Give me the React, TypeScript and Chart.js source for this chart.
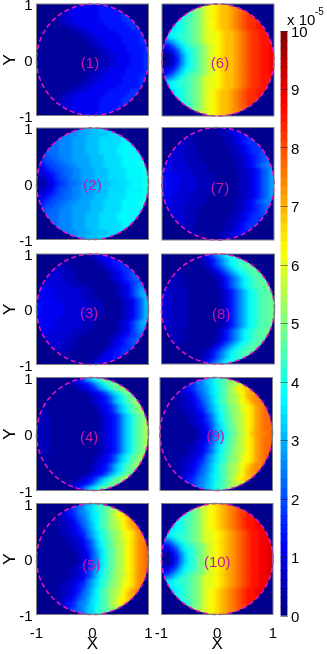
import React, { useEffect, useRef } from "react";
import { Chart, registerables } from "chart.js";

Chart.register(...registerables);

// Each string is one row of cells inside the disc, from y = +0.96 down to y = 0; the field is mirrored about y = 0.
// One character is one colour level: 0-9a-z, where 3.5 levels = 1 x 10^-5.
const panel1Rows = ["4444455", "34444445555", "233444444555556", "12334444445555566", "1122334444445555566", "111112233444445555566", "11111111223344444555556", "11111111122334444455556", "11111111112233444455556", "1111111111112233444455556", "1111111111111223344455556", "1111111111111122334445556", "1111111111111122334445556"];
const panel2Rows = ["aabbbcc", "99aaabbbbcc", "999aaabbbcccccd", "8999aaabbbcccccdd", "88999aaabbbccccdddd", "888999aaabbbccccddddd", "7788999aaaabbbccccddddd", "6778899aaaabbbccccdddde", "56778899aaabbbccccdddde", "3456778899aaabbbccccdddde", "2345678899aaabbbccccdddde", "1234677899aaabbbccccdddde", "11345678899aaabbbccccddde"];
const panel3Rows = ["1112344", "11111123445", "221111111234556", "32221111111234566", "3332221111111234567", "333322211111112345678", "43333322211111112345678", "44333332222111111234689", "4443333332221111123468a", "444433333322211111" + "23468ab", "4444433333322211111" + "23468b", "544444333333222111123468b", "544444333333222111123468b"];
const panel4Rows = ["57acegh", "123457acegh", "111123457aceghj", "111111123457acegh", "11111111123457acegh", "111111111123457aceghj", "21111111111123457aceghj", "21111111111123457aceghj", "221111111111123457acegh", "2221111111111123457aceghj", "2221111111111123457aceghj", "2221111111111123457aceghj", "2221111111111123457aceghj"];
const panel5Rows = ["89bcefg", "5689bcefgij", "235689acdfgikmn", "1234578acdfgijlmo", "112234689bdfgijkmop", "1112234579bdfgijkmnpq", "11112233568acefhijlmnpq", "11111223458acefhijlmnpq", "111111223468bdfgijkmnpq", "1111111223468bdfgijkmnpqr", "1111111123357aceghjkmnpqr", "11111111123479ceghjkmnpqr", "11111111123479ceghjkmnpqr"];
const panel6Rows = ["klmnoop", "hiklmnoopqr", "efhiklmnoopqrst", "efghiklmnoopqrstt", "defghiklmnoopqrsttu", "cdefghiklmnoopqrsttuu", "ddeefghikllmnoopqrsttuu", "cdeffghikllmnoopqrsttuu", "8acefghikllmnoopqrsttuu", "457acefghiklmnoopqrsttuuv", "3357bdefhiklmnoopqrsttuuv", "11369cefhiklmnoopqrsttuuv", "01359cefhiklmnoopqrsttuuv"];
const panel7Rows = ["1111223", "21111122345", "221111111223456", "32211111112234566", "3322211111112234566", "333222111111122345667", "33332221111111122345678", "43332222111111122345678", "43333222211111122345789", "44333322221111111" + "2234578a", "44433332222111111" + "2234578a", "544433332222111112234578a", "544433332222111112234578a"];
const panel8Rows = ["3579bde", "1123579bdef", "111123579bdefgg", "11111123579bdefgg", "2111111123579bdefgg", "222111111123579bdefgg", "2222111111123579bdefggh", "2222111111123579bdefggh", "32222111111123579bdefgg", "332222111111123579bdefggh", "332222111111123579bdefggh", "332222111111123579bdefggh", "332222111111123579bdefggh"];
const panel9Rows = ["9bcefgi", "689bcefgijk", "35689acdfgikmno", "234578acdfgijlmop", "12234689bdfgijkmopq", "112234579bdfgijkmnpqq", "1112233568acefhijlmnpqr", "1111223458acefhijlmnpqr", "11111223468bdfgijkmnpqr", "111111223468bdfgijkmnpqrr", "111111123357aceghjkmnpqrr", "111111112347aceghjkmnpqrr", "1111111123469bdfhiklopqqr"];
const panel10Rows = ["klmnopq", "hiklmnopqrs", "efhiklmnopqrstu", "efghiklmnopqrstuu", "defghiklmnopqrstuuv", "cdefghiklmnopqrstuuvv", "ddeefghikllmnopqrstuuvv", "cdeffghikllmnopqrstuuvv", "8acefghikllmnopqrstuuvv", "457acefghiklmnopqrstuuvvw", "3357bdefhiklmnopqrstuuvvw", "11369cefhiklmnopqrstuuvvw", "01359cefhiklmnopqrstuuvvw"];

const panelRows = [panel1Rows, panel2Rows, panel3Rows, panel4Rows, panel5Rows, panel6Rows, panel7Rows, panel8Rows, panel9Rows, panel10Rows];
const panelNames = ["(1)", "(2)", "(3)", "(4)", "(5)", "(6)", "(7)", "(8)", "(9)", "(10)"];
const nameX = [-0.045, 0, -0.06, -0.06, -0.02, 0.036, 0.036, 0.057, -0.01, 0];
const nameY = [-0.08, -0.04, -0.086, -0.07, -0.12, -0.07, -0.095, -0.1, -0.056, -0.063];
const hasYTicks = [true, true, true, true, true, false, false, false, false, false];
const hasYTitle = [true, false, true, true, true, false, false, false, false, false];
const hasXAxis = [false, false, false, false, true, false, false, false, false, true];
const colorbarTicks = [0, 1, 2, 3, 4, 5, 6, 7, 8, 9, 10];

const frames = [
  { l: 36.5, r: 148.5, t: 4, b: 115.5 },
  { l: 36.5, r: 148.5, t: 128, b: 239.5 },
  { l: 36.5, r: 148.5, t: 254, b: 364.5 },
  { l: 36.5, r: 148.5, t: 377.5, b: 490.5 },
  { l: 36.5, r: 148.5, t: 503.5, b: 614.5 },
  { l: 162, r: 274, t: 4, b: 116 },
  { l: 162, r: 274, t: 127.5, b: 240 },
  { l: 161.5, r: 274.5, t: 254, b: 364 },
  { l: 160, r: 272.5, t: 377.5, b: 490.5 },
  { l: 161.5, r: 273, t: 503.5, b: 614.5 },
];
const barFrame = { l: 280.5, r: 287.5, t: 31, b: 616 };
const W = 327;
const H = 654;
const FONT = "'Liberation Sans', Arial, sans-serif";
const LEVELS_PER_UNIT = 3.5;
const GRID = 25;
const STEP = 0.08;
const PAD = 3;
const BG = "rgb(0,0,140)";

function jet(t: number) {
  const c = (v: number) => Math.round(255 * Math.max(0, Math.min(1, v)));
  return `rgb(${c(1.5 - Math.abs(4 * t - 3))},${c(1.5 - Math.abs(4 * t - 2))},${c(1.5 - Math.abs(4 * t - 1))})`;
}

function buildCells(rows: string[]) {
  // The rim of each row is repeated a few cells past the disc so that smoothing does not pull in the
  // dark surround; the part outside the disc is masked off after the smoothing.
  const all = [rows[0], ...rows, ...rows.slice(0, -1).reverse(), rows[0]];
  const cells: { x: number; y: number }[] = [];
  const colors: string[] = [];
  all.forEach((row, j) => {
    const offset = (GRID - row.length) / 2;
    const pad = j === 0 || j === all.length - 1 ? PAD + 3 : PAD;
    for (let k = -pad; k < row.length + pad; k++) {
      const ch = row[Math.max(0, Math.min(row.length - 1, k))];
      cells.push({ x: -0.96 + (offset + k) * STEP, y: 1.04 - j * STEP });
      colors.push(jet(parseInt(ch, 36) / LEVELS_PER_UNIT / 10));
    }
  });
  return { cells, colors };
}

const circleDegrees = Array.from({ length: 121 }, (_, i) => i * 3);

const pin = (scale: any) => {
  scale.paddingTop = scale.paddingBottom = scale.paddingLeft = scale.paddingRight = 0;
};

function makePanel(canvas: HTMLCanvasElement, i: number) {
  const f = frames[i];
  const { cells, colors } = buildCells(panelRows[i]);
  const side = (f.r - f.l) / GRID + 0.6;
  const framePlugin = {
    id: "panelFrame",
    beforeDatasetsDraw(chart: any) {
      const a = chart.chartArea;
      chart.ctx.save();
      chart.ctx.fillStyle = BG;
      chart.ctx.fillRect(a.left, a.top, a.right - a.left, a.bottom - a.top);
      chart.ctx.restore();
    },
    afterDatasetDraw(chart: any, args: any) {
      if (args.index !== 1) return;
      const a = chart.chartArea;
      const ctx = chart.ctx;
      const w = a.right - a.left;
      const h = a.bottom - a.top;
      const x0 = Math.floor(a.left) - 1;
      const y0 = Math.floor(a.top) - 1;
      const ww = Math.ceil(w) + 3;
      const hh = Math.ceil(h) + 3;
      ctx.save();
      ctx.beginPath();
      ctx.rect(a.left, a.top, w, h);
      ctx.clip();
      ctx.filter = "blur(1.5px)";
      ctx.drawImage(chart.canvas, x0, y0, ww, hh, x0, y0, ww, hh);
      ctx.filter = "none";
      ctx.beginPath();
      ctx.rect(a.left, a.top, w, h);
      ctx.ellipse(a.left + w / 2, a.top + h / 2, w / 2, h / 2, 0, 0, Math.PI * 2);
      ctx.fillStyle = BG;
      ctx.fill("evenodd");
      ctx.restore();
    },
    afterDatasetsDraw(chart: any) {
      const a = chart.chartArea;
      const ctx = chart.ctx;
      ctx.save();
      ctx.strokeStyle = "#808080";
      ctx.lineWidth = 1;
      ctx.strokeRect(a.left, a.top, a.right - a.left, a.bottom - a.top);
      ctx.font = `15px ${FONT}`;
      ctx.fillStyle = "rgb(195,25,165)";
      ctx.textAlign = "center";
      ctx.textBaseline = "middle";
      ctx.fillText(panelNames[i], chart.scales.x.getPixelForValue(nameX[i]), chart.scales.y.getPixelForValue(nameY[i]));
      ctx.restore();
    },
  };
  return new Chart(canvas, {
    type: "scatter",
    data: {
      datasets: [
        {
          data: circleDegrees.map((d) => ({ x: Math.cos((d * Math.PI) / 180), y: Math.sin((d * Math.PI) / 180) })),
          showLine: true,
          borderColor: "rgb(225,20,190)",
          borderWidth: 1.6,
          borderDash: [5, 3],
          pointRadius: 0,
          clip: false,
          order: 0,
        },
        {
          data: cells,
          pointStyle: "rect",
          pointRadius: side / Math.SQRT2,
          pointBorderWidth: 0,
          pointBackgroundColor: colors,
          order: 1,
        },
      ],
    } as any,
    options: {
      responsive: false,
      animation: false,
      events: [],
      layout: { padding: { left: 0, right: W - f.r, top: f.t, bottom: 0 } },
      plugins: { legend: { display: false }, tooltip: { enabled: false } },
      scales: {
        x: {
          type: "linear",
          min: -1,
          max: 1,
          grid: { display: false, drawTicks: false },
          border: { display: false },
          ticks: { display: hasXAxis[i], stepSize: 1, color: "#000", padding: 10, maxRotation: 0, font: { family: FONT, size: 15 } },
          title: { display: hasXAxis[i], text: "X", color: "#000", padding: { top: 0, bottom: -1 }, font: { family: FONT, size: 17 } },
          afterFit(s: any) {
            s.height = H - f.b;
            pin(s);
          },
        },
        y: {
          type: "linear",
          min: -1,
          max: 1,
          grid: { display: false, drawTicks: false },
          border: { display: false },
          ticks: { display: hasYTicks[i], stepSize: 1, color: "#000", padding: 4, labelOffset: 2, font: { family: FONT, size: 15 } },
          title: { display: hasYTitle[i], text: "Y", color: "#000", padding: 0, font: { family: FONT, size: 17 } },
          afterFit(s: any) {
            s.width = f.l;
            pin(s);
          },
        },
      },
    } as any,
    plugins: [framePlugin],
  });
}

function makeColorbar(canvas: HTMLCanvasElement) {
  const f = barFrame;
  const bands = Array.from({ length: 64 }, (_, i) => i);
  const exponentPlugin = {
    id: "exponent",
    afterDraw(chart: any) {
      const ctx = chart.ctx;
      ctx.save();
      ctx.fillStyle = "#000";
      ctx.textBaseline = "middle";
      ctx.textAlign = "left";
      ctx.font = `15px ${FONT}`;
      ctx.fillText("x 10", 287, 21);
      ctx.font = `10px ${FONT}`;
      ctx.fillText("-5", 315, 12);
      ctx.restore();
    },
  };
  return new Chart(canvas, {
    type: "bar",
    data: {
      labels: ["colorbar"],
      datasets: bands.map((b) => ({
        data: [10 / 64],
        backgroundColor: jet((b + 0.5) / 64),
        borderWidth: 0,
        barPercentage: 1,
        categoryPercentage: 1,
        stack: "s",
      })),
    },
    options: {
      responsive: false,
      animation: false,
      events: [],
      layout: { padding: { left: f.l, right: 0, top: f.t, bottom: H - f.b } },
      plugins: { legend: { display: false }, tooltip: { enabled: false } },
      scales: {
        x: {
          stacked: true,
          display: false,
          afterFit(s: any) {
            s.height = 0;
            pin(s);
          },
        },
        y: {
          stacked: true,
          position: "right",
          min: 0,
          max: 10,
          border: { display: false },
          grid: { z: 1, color: "rgba(40,40,40,0.55)", drawTicks: false, lineWidth: 1 },
          afterBuildTicks(s: any) {
            s.ticks = colorbarTicks.map((value) => ({ value }));
          },
          ticks: { color: "#000", padding: 3.5, labelOffset: 1.5, font: { family: FONT, size: 15 } },
          afterFit(s: any) {
            s.width = W - f.r;
            pin(s);
          },
        },
      },
    } as any,
    plugins: [exponentPlugin],
  });
}

export default function App() {
  const panelRefs = useRef<(HTMLCanvasElement | null)[]>([]);
  const barRef = useRef<HTMLCanvasElement | null>(null);
  useEffect(() => {
    const charts = panelRefs.current.map((c, i) => makePanel(c as HTMLCanvasElement, i));
    charts.push(makeColorbar(barRef.current as HTMLCanvasElement) as any);
    return () => charts.forEach((c) => c.destroy());
  }, []);
  const style: React.CSSProperties = { position: "absolute", left: 0, top: 0 };
  return (
    <div style={{ position: "absolute", left: 0, top: 0, width: W, height: H, overflow: "hidden", background: "#fff" }}>
      {panelRows.map((_, i) => (
        <canvas key={i} ref={(el) => { panelRefs.current[i] = el; }} width={W} height={H} style={style} />
      ))}
      <canvas ref={barRef} width={W} height={H} style={style} />
    </div>
  );
}
